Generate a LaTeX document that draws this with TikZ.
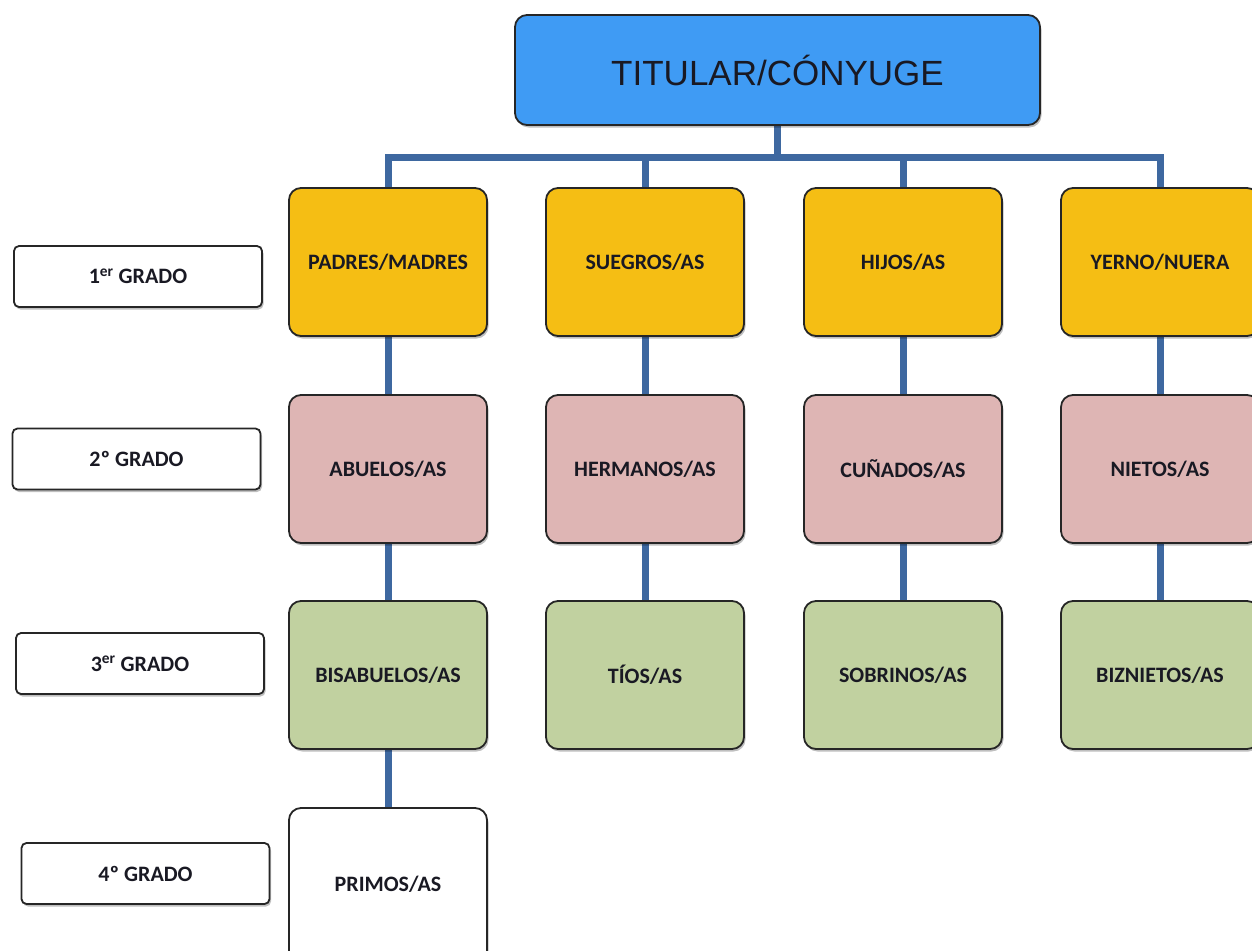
\documentclass[tikz,border=0pt]{standalone}
\usepackage{fontspec}
\setmainfont{Carlito}
\newfontfamily\arialf{Liberation Sans}
\usetikzlibrary{shadows,backgrounds}
\definecolor{topblue}{RGB}{63,155,244}
\definecolor{gyellow}{RGB}{245,190,20}
\definecolor{gpink}{RGB}{222,181,180}
\definecolor{ggreen}{RGB}{193,209,160}
\definecolor{conn}{RGB}{62,104,160}
\definecolor{txt}{RGB}{25,25,35}
\tikzset{
  shad/.style={drop shadow={shadow xshift=1.5pt,shadow yshift=-2.5pt,fill=black,opacity=0.25}},
  kinbox/.style={shad,draw=black!85,line width=1.8pt,rounded corners=12pt,minimum width=198pt,minimum height=148pt,inner sep=0pt,outer sep=0pt,font=\bfseries\fontsize{22}{26}\selectfont,text=txt},
  gradebox/.style={shad,draw=black!85,fill=white,line width=1.8pt,rounded corners=5pt,minimum width=248pt,minimum height=61pt,inner sep=0pt,outer sep=0pt,font=\bfseries\fontsize{22}{26}\selectfont,text=txt},
  topbox/.style={shad,draw=black!85,fill=topblue,line width=1.8pt,rounded corners=12pt,minimum width=525pt,minimum height=110pt,inner sep=0pt,outer sep=0pt,font=\arialf\fontsize{35}{40}\selectfont,text=txt},
  link/.style={draw=conn,line width=7pt,line join=miter}
}
\begin{document}
\begin{tikzpicture}[x=1pt,y=-1pt]
\useasboundingbox (0,0) rectangle (1252,950);
\clip (0,0) rectangle (1252,950);
% top
\node[topbox] (top) at (777.5,70) {TITULAR/CÓNYUGE};
% row 1
\node[kinbox,fill=gyellow] (p1) at (388,262) {PADRES/MADRES};
\node[kinbox,fill=gyellow] (p2) at (645,262) {SUEGROS/AS};
\node[kinbox,fill=gyellow] (p3) at (903,262) {HIJOS/AS};
\node[kinbox,fill=gyellow] (p4) at (1160,262) {YERNO/NUERA};
% row 2
\node[kinbox,fill=gpink] (s1) at (388,469) {ABUELOS/AS};
\node[kinbox,fill=gpink] (s2) at (645,469) {HERMANOS/AS};
\node[kinbox,fill=gpink] (s3) at (903,469) {CUÑADOS/AS};
\node[kinbox,fill=gpink] (s4) at (1160,469) {NIETOS/AS};
% row 3
\node[kinbox,fill=ggreen] (t1) at (388,675) {BISABUELOS/AS};
\node[kinbox,fill=ggreen] (t2) at (645,675) {TÍOS/AS};
\node[kinbox,fill=ggreen] (t3) at (903,675) {SOBRINOS/AS};
\node[kinbox,fill=ggreen] (t4) at (1160,675) {BIZNIETOS/AS};
% row 4
\node[kinbox,fill=white,minimum height=160pt] (f1) at (388,888) {\raisebox{8pt}{PRIMOS/AS}};
% grade labels
\node[gradebox] (g1) at (138,276.5) {1\textsuperscript{er} GRADO};
\node[gradebox] (g2) at (136.5,459) {2º GRADO};
\node[gradebox] (g3) at (140,663.5) {3\textsuperscript{er} GRADO};
\node[gradebox] (g4) at (145.5,873.5) {4º GRADO};
% connectors
\begin{scope}[on background layer]
\fill[white] (0,0) rectangle (1252,950);
\coordinate (bus) at (777.5,157);
\draw[link] (top.south) -- (bus);
\draw[link] (p1.north) -- (p1.north |- bus) -- (p4.north |- bus) -- (p4.north);
\draw[link] (p2.north) -- (p2.north |- bus);
\draw[link] (p3.north) -- (p3.north |- bus);
\draw[link] (p1) -- (s1);
\draw[link] (p2) -- (s2);
\draw[link] (p3) -- (s3);
\draw[link] (p4) -- (s4);
\draw[link] (s1) -- (t1);
\draw[link] (s2) -- (t2);
\draw[link] (s3) -- (t3);
\draw[link] (s4) -- (t4);
\draw[link] (t1) -- (f1);
\end{scope}
\end{tikzpicture}
\end{document}
